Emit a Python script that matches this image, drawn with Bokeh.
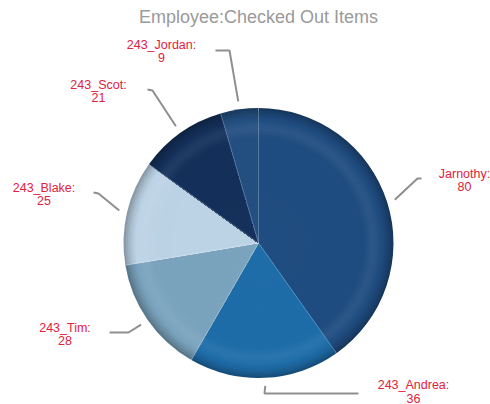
import numpy as np
from bokeh.plotting import figure
from bokeh.models import ColumnDataSource, Range1d
from bokeh.embed import file_html
from bokeh.resources import INLINE
from bokeh.core.properties import value

# ---- data ----
names = ["Jarnothy", "243_Andrea", "243_Tim", "243_Blake", "243_Scot", "243_Jordan"]
counts = [80, 36, 28, 25, 21, 9]
title_text = "Employee:Checked Out Items"

# ---- styles / layout ----
base_colors = [(31, 76, 128), (30, 108, 168), (122, 163, 189), (188, 211, 229), (20, 48, 90), (35, 79, 128)]
W, H = 490, 404
def px(x):
    return x
def py(y):
    return H - y

cx, cy, R = px(258), py(242.5), 135.0
label_pos = [(464, 173), (413, 384.5), (64.5, 327), (43.5, 187), (98, 84), (161, 44)]
elbows = [(417, 178), (264, 393), (128, 332), (98, 193), (152, 90), (229, 50)]
ends = [(421, 178), (358, 393), (109, 332), (93, 192), (147, 89), (215, 50)]

p = figure(width=W, height=H, output_backend="svg", toolbar_location=None,
           x_range=Range1d(0, W), y_range=Range1d(0, H), min_border=0)
p.axis.visible = False
p.grid.visible = False
p.outline_line_color = None
p.background_fill_color = "white"
p.border_fill_color = "white"

vals = np.array(counts, dtype=float)
frac = vals / vals.sum()
cum = np.concatenate([[0], np.cumsum(frac)]) * 2 * np.pi  # clockwise from top
starts_cw = cum[:-1]
ends_cw = cum[1:]

def shade(rgb, k):
    r, g, b = rgb
    if k >= 0:
        return "#%02x%02x%02x" % tuple(int(round(c + (255 - c) * k)) for c in (r, g, b))
    return "#%02x%02x%02x" % tuple(int(round(c * (1 + k))) for c in (r, g, b))

def profile(rm):
    k = 0.015 * (0.5 - rm) + 0.06 * np.exp(-((rm - 0.85) / 0.05) ** 2)
    if rm > 0.9:
        k -= 0.30 * ((rm - 0.9) / 0.1) ** 1.6
    return k

# radial shading: stacked wedges from outer to inner (no seams)
nr = 60
radii = np.linspace(1, 0, nr, endpoint=False)
for i in range(len(counts)):
    sa = np.pi / 2 - ends_cw[i]
    ea = np.pi / 2 - starts_cw[i]
    for rr in radii:
        rm = rr - 0.5 / nr
        p.wedge(x=cx, y=cy, radius=R * rr, start_angle=sa, end_angle=ea,
                fill_color=shade(base_colors[i], profile(rm)), line_color=None)

# slice separators
for i in range(len(counts)):
    a = np.pi / 2 - starts_cw[i]
    p.line([cx, cx + R * np.cos(a)], [cy, cy + R * np.sin(a)], line_color="white",
           line_alpha=0.25, line_width=1)

# leader lines
for i in range(len(counts)):
    mid = (starts_cw[i] + ends_cw[i]) / 2
    a = np.pi / 2 - mid
    sx, sy = cx + 143 * np.cos(a), cy + 143 * np.sin(a)
    ex, ey = elbows[i]
    fx, fy = ends[i]
    p.line([sx, px(ex), px(fx)], [sy, py(ey), py(fy)], line_color="#8f8f8f", line_width=2)

# labels
lx = [px(x) for x, _ in label_pos]
ly1 = [py(y) for _, y in label_pos]
ly2 = [py(y + 13) for _, y in label_pos]
src = ColumnDataSource(dict(x=lx, y1=ly1, y2=ly2, t1=[n + ":" for n in names], t2=[str(c) for c in counts]))
p.text(x="x", y="y1", text="t1", source=src, text_font=value("Liberation Sans"), text_font_size="12.5px",
       text_color="#e2213c", text_align="center", text_baseline="middle")
p.text(x="x", y="y2", text="t2", source=src, text_font=value("Liberation Sans"), text_font_size="12.5px",
       text_color="#e2213c", text_align="center", text_baseline="middle")

# title
p.text(x=[px(258)], y=[py(16)], text=[title_text], text_font=value("Liberation Sans"), text_font_size="18px",
       text_color="#9a9a9a", text_align="center", text_baseline="middle")

open("out.html", "w").write(file_html(p, INLINE))
